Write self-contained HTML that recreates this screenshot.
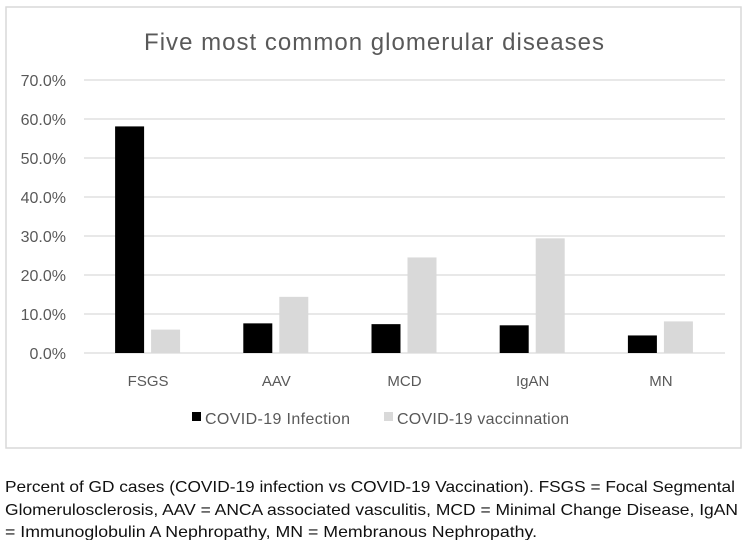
<!DOCTYPE html>
<html><head><meta charset="utf-8"><style>
html,body{margin:0;padding:0;background:#fff;width:749px;height:540px;overflow:hidden}
svg{display:block;font-family:"Liberation Sans",sans-serif}
</style></head><body>
<svg id="c" width="749" height="540">
<rect x="6" y="7" width="735" height="441" fill="#fff" stroke="#d9d9d9" stroke-width="1.5"/>
<text x="374" y="50" text-anchor="middle" font-size="24" fill="#595959" textLength="460">Five most common glomerular diseases</text>
<g id="grid"></g><g id="bars"></g><g id="labels"></g>
<g>
<rect x="192" y="412" width="9" height="9" fill="#000"/>
<text x="205" y="424" font-size="16" fill="#595959" textLength="145">COVID-19 Infection</text>
<rect x="384" y="412" width="9" height="9" fill="#d9d9d9"/>
<text x="397" y="424" font-size="16" fill="#595959" textLength="172">COVID-19 vaccinnation</text>
</g>
<g font-size="16" fill="#111">
<text x="5" y="492" textLength="730" lengthAdjust="spacingAndGlyphs">Percent of GD cases (COVID-19 infection vs COVID-19 Vaccination). FSGS = Focal Segmental</text>
<text x="5" y="515" textLength="733" lengthAdjust="spacingAndGlyphs">Glomerulosclerosis, AAV = ANCA associated vasculitis, MCD = Minimal Change Disease, IgAN</text>
<text x="5" y="537" textLength="532" lengthAdjust="spacingAndGlyphs">= Immunoglobulin A Nephropathy, MN = Membranous Nephropathy.</text>
</g>
</svg>
<script>
const categories=["FSGS","AAV","MCD","IgAN","MN"];
const infection=[58.1,7.6,7.4,7.1,4.5];
const vaccination=[6.0,14.4,24.5,29.4,8.1];
const ticks=[0,10,20,30,40,50,60,70];
const NS="http://www.w3.org/2000/svg";
const L=84,R=725,T=80,B=353,MAX=70;
const y=v=>B-(v/MAX)*(B-T);
const bw=(R-L)/categories.length;
const xc=i=>L+bw*(i+0.5);
function mk(tag,at,parent){const e=document.createElementNS(NS,tag);for(const k in at)e.setAttribute(k,at[k]);document.getElementById(parent).appendChild(e);return e;}
ticks.forEach(t=>{
 const l=mk("line",{x1:L,x2:R,y1:y(t),y2:y(t),stroke:"#d9d9d9","stroke-width":1.3},"grid");
 
 
 const tx=mk("text",{x:66,y:y(t)+6,"text-anchor":"end","font-size":"16",fill:"#595959"},"grid");
 tx.textContent=t.toFixed(1)+"%";
 
 
});
categories.forEach((c,i)=>{
 const a=mk("rect",{x:xc(i)-33,y:y(infection[i]),width:29,height:B-y(infection[i]),fill:"#000"},"bars");
 
 
 const b=mk("rect",{x:xc(i)+3,y:y(vaccination[i]),width:29,height:B-y(vaccination[i]),fill:"#d9d9d9"},"bars");
 
 
 const t=mk("text",{x:xc(i),y:386,"text-anchor":"middle","font-size":"15",fill:"#595959"},"labels");
 t.textContent=c;
 
 
});
</script>
</body></html>
